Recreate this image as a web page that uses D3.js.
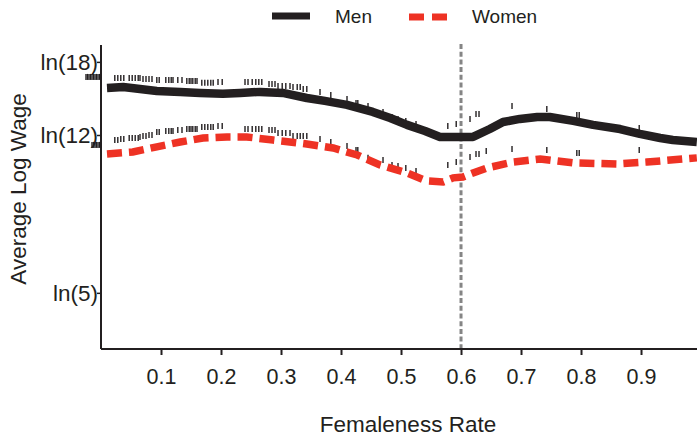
<!DOCTYPE html>
<html><head><meta charset="utf-8">
<script src="https://cdn.jsdelivr.net/npm/d3@7"></script>
<style>body{margin:0;background:#fff}svg{display:block}text{font-family:"Liberation Sans",Arial,sans-serif;fill:#231f20}</style>
</head><body><svg id="c" width="697" height="437"></svg>
<script>
// ---- data ----
const menX = [0.010,0.037,0.065,0.093,0.132,0.165,0.203,0.232,0.265,0.303,0.343,0.373,0.410,0.453,0.482,0.510,0.540,0.565,0.600,0.620,0.648,0.670,0.698,0.727,0.748,0.787,0.820,0.865,0.898,0.932,0.953,0.993];
const menY = [2.746,2.751,2.740,2.729,2.724,2.718,2.713,2.718,2.724,2.718,2.690,2.674,2.652,2.613,2.579,2.541,2.507,2.474,2.474,2.474,2.518,2.557,2.574,2.585,2.585,2.563,2.541,2.518,2.491,2.468,2.457,2.446];
const womenX = [0.010,0.053,0.093,0.132,0.170,0.210,0.243,0.287,0.343,0.387,0.427,0.465,0.510,0.543,0.570,0.587,0.603,0.620,0.643,0.687,0.732,0.787,0.860,0.910,0.993];
const womenY = [2.380,2.391,2.419,2.446,2.468,2.474,2.474,2.457,2.435,2.413,2.374,2.319,2.274,2.230,2.224,2.247,2.252,2.274,2.302,2.335,2.352,2.330,2.324,2.335,2.358];
// rug marks (femaleness, men log wage, women log wage)
const rugX = [-0.025,-0.0225,-0.020,-0.0175,-0.015,-0.0125,-0.010,-0.0075,-0.005,-0.0025,
  0.023,0.028,0.033,0.038,0.047,0.052,0.057,0.062,0.065,0.070,0.075,0.080,0.085,0.093,0.097,
  0.108,0.113,0.117,0.120,0.128,0.135,0.143,0.147,0.150,0.153,0.157,0.160,0.168,0.173,0.178,0.183,0.187,
  0.195,0.202,0.240,0.245,0.252,0.258,0.263,0.268,0.280,0.285,0.290,0.295,0.302,0.308,0.315,
  0.320,0.327,0.332,0.337,0.343,0.365,0.383,0.410,0.425,0.428,0.445,0.470,0.485,0.495,0.508,0.525,
  0.578,0.592,0.615,0.625,0.630,0.642,0.685,0.743,0.793,0.797,0.897];
const rugMen = [2.807,2.807,2.807,2.807,2.807,2.807,2.807,2.807,2.807,2.807,
  2.801,2.801,2.801,2.801,2.801,2.801,2.801,2.801,2.801,2.796,2.796,2.796,2.796,2.790,2.790,
  2.790,2.790,2.790,2.790,2.790,2.790,2.785,2.785,2.785,2.785,2.785,2.785,2.774,2.774,2.774,2.774,2.774,
  2.779,2.779,2.779,2.779,2.779,2.779,2.779,2.779,2.768,2.768,2.768,2.757,2.757,2.757,2.757,
  2.751,2.751,2.751,2.740,2.740,2.724,2.707,2.685,2.663,2.663,2.646,2.613,2.585,2.574,2.563,2.546,
  2.535,2.546,2.574,2.602,2.602,null,2.646,2.629,2.596,2.596,2.524];
const rugWomen = [null,null,null,null,2.430,2.430,2.430,2.430,2.430,2.430,
  2.457,2.457,2.463,2.463,2.468,2.468,2.468,2.468,2.474,2.480,2.480,2.485,2.485,2.502,2.502,
  2.507,2.507,2.507,2.507,2.513,2.513,2.518,2.518,2.518,2.518,2.518,2.518,2.529,2.529,2.529,2.529,2.529,
  2.535,2.535,2.518,2.518,2.518,2.518,2.518,2.518,2.513,2.513,2.513,2.496,2.496,2.496,2.496,
  2.480,2.480,2.480,2.480,2.480,2.463,2.446,2.424,2.402,2.402,2.358,2.346,2.319,2.313,2.302,2.285,
  2.319,2.335,2.363,2.380,2.380,2.396,2.407,2.402,2.385,2.385,2.402];
const xTicks = [0.1,0.2,0.3,0.4,0.5,0.6,0.7,0.8,0.9];
const yTickVals = [Math.log(18), Math.log(12), Math.log(5)];
const yTickLabels = ["ln(18)","ln(12)","ln(5)"];
const cutoff = 0.6;
const seriesNames = ["Men","Women"];

// ---- chart ----
const svg = d3.select("#c");
const x = d3.scaleLinear().domain([0,0.9933]).range([101,697]);
const y = d3.scaleLinear().domain([1.298,2.984]).range([349,45]);
const ink = "#231f20", red = "#ee3224";
const ff = "Liberation Sans, Arial, sans-serif";

// axes
const gx = svg.append("g").attr("transform","translate(0,349)")
  .call(d3.axisBottom(x).tickValues(xTicks).tickFormat(d3.format(".1f")).tickSize(6).tickPadding(14));
gx.select(".domain").attr("stroke",ink).attr("stroke-width",2).attr("d","M101,0H697");
gx.selectAll(".tick line").attr("stroke",ink).attr("stroke-width",2);
gx.selectAll(".tick text").attr("font-size",21.5).attr("fill",ink).style("font-family",ff);

const gy = svg.append("g").attr("transform","translate(101,0)")
  .call(d3.axisLeft(y).tickValues(yTickVals).tickFormat((d,i)=>yTickLabels[i]).tickSize(4).tickPadding(0));
gy.select(".domain").attr("stroke",ink).attr("stroke-width",2).attr("d","M0,45V349");
gy.selectAll(".tick line").attr("stroke",ink).attr("stroke-width",1.5);
gy.selectAll(".tick text").attr("font-size",22.5).attr("fill",ink).attr("x",-3).style("font-family",ff);

// cutoff line
svg.append("line").attr("x1",x(cutoff)).attr("x2",x(cutoff)).attr("y1",44).attr("y2",348)
  .attr("stroke","#858585").attr("stroke-width",3).attr("stroke-dasharray","5,2.7");

// rug marks
svg.append("g").selectAll("line.m").data(rugX.map((v,i)=>[v,rugMen[i]]).filter(d=>d[1]!=null)).join("line")
  .attr("x1",d=>x(d[0])).attr("x2",d=>x(d[0])).attr("y1",d=>y(d[1])-3).attr("y2",d=>y(d[1])+3)
  .attr("stroke",ink).attr("stroke-width",1.4);
svg.append("g").selectAll("line.w").data(rugX.map((v,i)=>[v,rugWomen[i]]).filter(d=>d[1]!=null)).join("line")
  .attr("x1",d=>x(d[0])).attr("x2",d=>x(d[0])).attr("y1",d=>y(d[1])-3).attr("y2",d=>y(d[1])+3)
  .attr("stroke",ink).attr("stroke-width",1.4);

// lines
const line = d3.line().x(d=>x(d[0])).y(d=>y(d[1]));
svg.append("path").datum(menX.map((v,i)=>[v,menY[i]])).attr("d",line)
  .attr("fill","none").attr("stroke",ink).attr("stroke-width",8.5).attr("stroke-linejoin","round");
svg.append("path").datum(womenX.map((v,i)=>[v,womenY[i]])).attr("d",line)
  .attr("fill","none").attr("stroke",red).attr("stroke-width",7.5).attr("stroke-dasharray","15,7");

// axis titles
svg.append("text").attr("x",408).attr("y",432).attr("text-anchor","middle").attr("font-size",22.5).text("Femaleness Rate");
svg.append("text").attr("transform","translate(26,189) rotate(-90)").attr("text-anchor","middle").attr("font-size",22.5).text("Average Log Wage");

// legend
const lg = svg.append("g");
lg.append("line").attr("x1",272).attr("x2",310).attr("y1",16).attr("y2",16).attr("stroke",ink).attr("stroke-width",7);
lg.append("text").attr("x",335).attr("y",23).attr("font-size",19).text(seriesNames[0]);
lg.append("line").attr("x1",409).attr("x2",447).attr("y1",17).attr("y2",17).attr("stroke",red).attr("stroke-width",7).attr("stroke-dasharray","15,8");
lg.append("text").attr("x",472).attr("y",23).attr("font-size",19).text(seriesNames[1]);
</script></body></html>
